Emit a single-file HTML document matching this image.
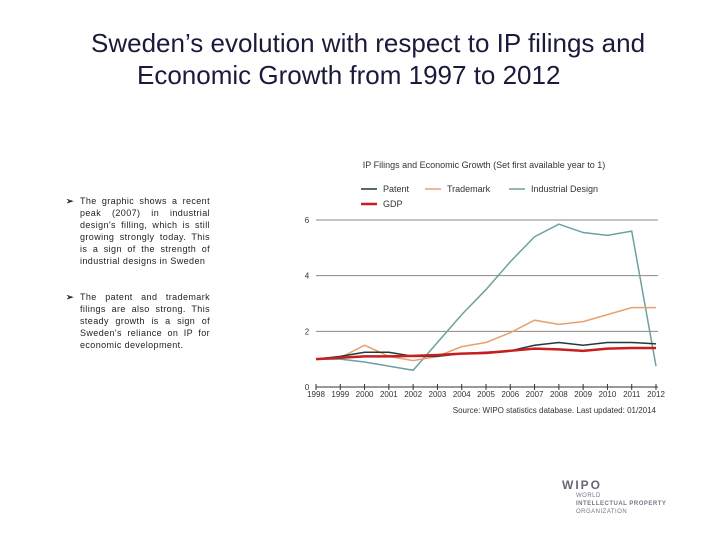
<!DOCTYPE html>
<html><head><meta charset="utf-8"><style>
body{margin:0;width:720px;height:540px;background:#fff;font-family:"Liberation Sans",sans-serif;position:relative;overflow:hidden}
.tl{position:absolute;font-size:26px;line-height:32px;color:#1a1a3a;white-space:nowrap}
.bullet{position:absolute;left:66px;width:144px;font-size:9px;line-height:12px;color:#222}
.bullet span.m{position:absolute;left:0;top:0;font-weight:bold}
.bullet p{margin:0 0 0 14px;text-align:justify;letter-spacing:0.4px}
#chart{position:absolute;left:0;top:0}
#wipo{position:absolute;left:562px;top:478px;color:#778;font-size:6px;line-height:8px;letter-spacing:0.5px}
</style></head><body>
<div><div class="tl" style="left:91px;top:27px">Sweden’s evolution with respect to IP filings and</div><div class="tl" style="left:137px;top:59px">Economic Growth from 1997 to 2012</div></div>
<div class="bullet" style="top:195px"><span class="m">➢</span><p>The graphic shows a recent peak (2007) in industrial design's filling, which is still growing strongly today. This is a sign of the strength of industrial designs in Sweden</p></div>
<div class="bullet" style="top:291px"><span class="m">➢</span><p>The patent and trademark filings are also strong. This steady growth is a sign of Sweden's reliance on IP for economic development.</p></div>
<svg id="chart" width="720" height="540"></svg>
<div id="wipo"><div style="font-size:12px;font-weight:bold;color:#667;letter-spacing:2px;line-height:14px">WIPO</div><div style="margin-left:14px">WORLD<br><b>INTELLECTUAL PROPERTY</b><br>ORGANIZATION</div></div>
<script>
const years=["1998","1999","2000","2001","2002","2003","2004","2005","2006","2007","2008","2009","2010","2011","2012"];
const yTicks=[0,2,4,6];
const patent=[1.0,1.1,1.25,1.25,1.1,1.1,1.2,1.25,1.3,1.5,1.6,1.5,1.6,1.6,1.55];
const trademark=[1.0,1.05,1.5,1.1,0.95,1.1,1.45,1.6,1.95,2.4,2.25,2.35,2.6,2.85,2.85];
const design=[1.0,1.0,0.9,0.75,0.6,1.6,2.6,3.5,4.5,5.4,5.85,5.55,5.45,5.6,0.75];
const gdp=[1.0,1.05,1.1,1.1,1.12,1.15,1.2,1.22,1.3,1.38,1.35,1.3,1.38,1.4,1.4];
const NS="http://www.w3.org/2000/svg",svg=document.getElementById('chart');
const x0=316,x1=656,y0=387,y6=220;
const X=i=>x0+i*(x1-x0)/(years.length-1);
const Y=v=>y0-v*(y0-y6)/6;
function mk(t,a,txt){const e=document.createElementNS(NS,t);for(const k in a)e.setAttribute(k,a[k]);if(txt!=null)e.textContent=txt;svg.appendChild(e);return e;}
let e=mk('text',{x:484,y:168,'font-size':9,'text-anchor':'middle',fill:'#333'},'IP Filings and Economic Growth (Set first available year to 1)');

yTicks.forEach(v=>{
 if(v>0){let g=mk('line',{x1:x0,x2:658,y1:Y(v),y2:Y(v),stroke:'#888','stroke-width':1});}
 let t=mk('text',{x:307,y:Y(v)+3,'font-size':8,'text-anchor':'middle',fill:'#333'},String(v));
 
});
let ax=mk('line',{x1:x0,x2:658,y1:y0,y2:y0,stroke:'#333','stroke-width':1});
years.forEach((yr,i)=>{
 let tk=mk('line',{x1:X(i),x2:X(i),y1:y0-3,y2:y0+3,stroke:'#333'});
 let t=mk('text',{x:X(i),y:y0+10,'font-size':8,'text-anchor':'middle',fill:'#333'},yr);
 
});
e=mk('text',{x:656,y:413,'font-size':8,'text-anchor':'end',fill:'#333'},'Source: WIPO statistics database. Last updated: 01/2014');

const series=[[design,'#6fa0a0',1.5,'industrial-design'],[trademark,'#e8a070',1.5,'trademark'],[patent,'#1e3b3b',1.5,'patent'],[gdp,'#c81e1e',2.5,'gdp']];
series.forEach(([d,c,w,n])=>{
 let p=mk('polyline',{points:d.map((v,i)=>X(i)+','+Y(v)).join(' '),fill:'none',stroke:c,'stroke-width':w});
 
});
const leg=[['Patent','#1e3b3b',1.5,361,189],['Trademark','#e8a070',1.5,425,189],['Industrial Design','#6fa0a0',1.5,509,189],['GDP','#c81e1e',2.5,361,204]];
leg.forEach(([l,c,w,x,y])=>{
 let g=mk('line',{x1:x,x2:x+16,y1:y,y2:y,stroke:c,'stroke-width':w});
 let t=mk('text',{x:x+22,y:y+3,'font-size':9,fill:'#333'},l);
});
</script>
</body></html>
